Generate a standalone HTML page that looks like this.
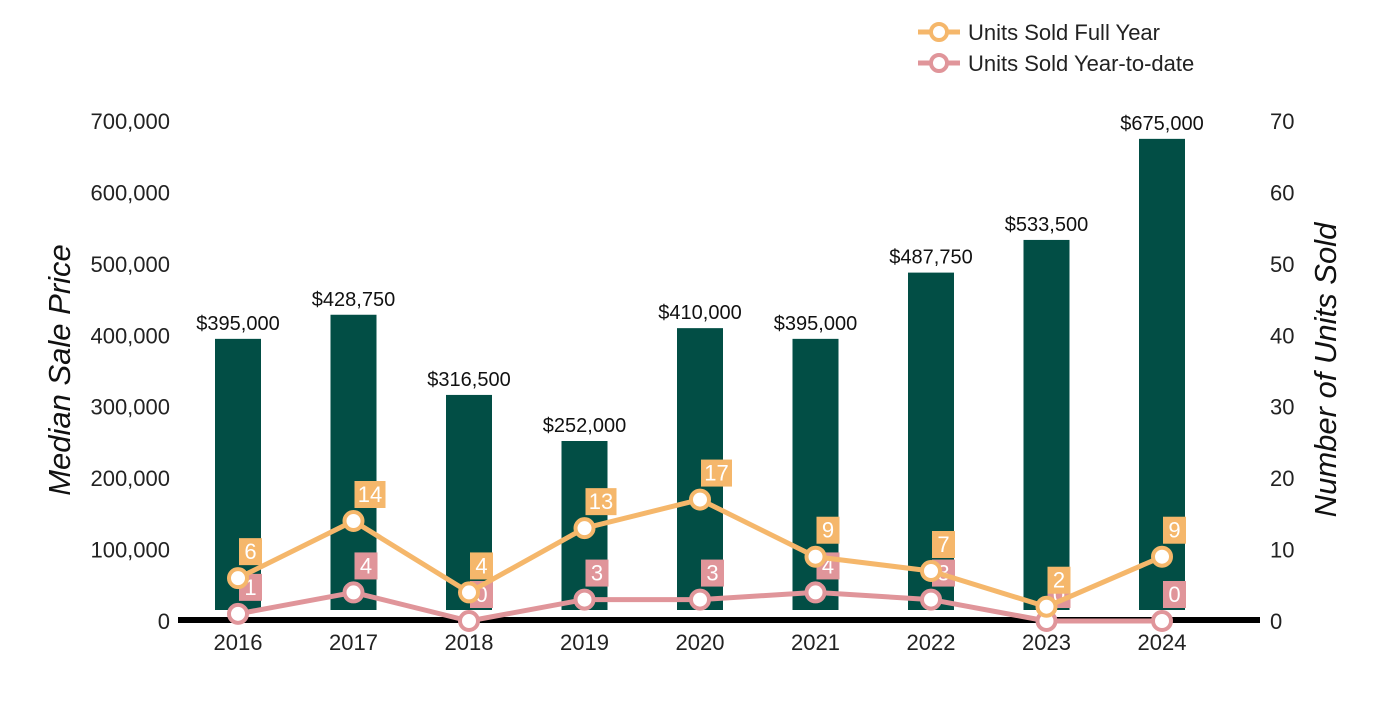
<!DOCTYPE html>
<html><head><meta charset="utf-8"><style>
body{margin:0;background:#fff;font-family:"Liberation Sans",Arial,sans-serif}
svg text{font-family:"Liberation Sans",Arial,sans-serif}
</style></head><body>
<svg id="c" width="1400" height="700" xmlns="http://www.w3.org/2000/svg">
<g>
 <g>
  <line x1="918" y1="32" x2="960" y2="32" stroke="#F5B76B" stroke-width="5"/>
  <circle cx="939" cy="32" r="8" fill="#fff" stroke="#F5B76B" stroke-width="4"/>
  <text x="968" y="40" font-size="22" fill="#222">Units Sold Full Year</text>
 </g>
 <g>
  <line x1="918" y1="63" x2="960" y2="63" stroke="#E0959A" stroke-width="5"/>
  <circle cx="939" cy="63" r="8" fill="#fff" stroke="#E0959A" stroke-width="4"/>
  <text x="968" y="71" font-size="22" fill="#222">Units Sold Year-to-date</text>
 </g>
</g>
<text transform="translate(70,370) rotate(-90)" text-anchor="middle" font-size="31" font-style="italic" fill="#111">Median Sale Price</text>
<text transform="translate(1336,370) rotate(-90)" text-anchor="middle" font-size="31" font-style="italic" fill="#111">Number of Units Sold</text>
<g id="plot"></g>
</svg>
<script>
const years=["2016","2017","2018","2019","2020","2021","2022","2023","2024"];
const prices=[395000,428750,316500,252000,410000,395000,487750,533500,675000];
const fullYear=[6,14,4,13,17,9,7,2,9];
const ytd=[1,4,0,3,3,4,3,0,0];
const leftTicks=[0,100000,200000,300000,400000,500000,600000,700000];
const rightTicks=[0,10,20,30,40,50,60,70];
const NS="http://www.w3.org/2000/svg";
const g=document.getElementById('plot');
const y0=621,yTop=121;
const yL=v=>y0-(v/700000)*(y0-yTop);
const yR=v=>y0-(v/70)*(y0-yTop);
const xC=i=>238+i*115.5;
function el(t,a,txt){const e=document.createElementNS(NS,t);for(const k in a)e.setAttribute(k,a[k]);if(txt!==undefined)e.textContent=txt;g.appendChild(e);return e;}
const fmt=v=>v.toLocaleString('en-US');
leftTicks.forEach(v=>{const e=el('text',{x:170,y:yL(v)+8,'text-anchor':'end','font-size':22,fill:'#222'},fmt(v));

});
rightTicks.forEach(v=>{const e=el('text',{x:1270,y:yR(v)+8,'font-size':22,fill:'#222'},String(v));

});
prices.forEach((p,i)=>{const top=yL(p);const b=el('rect',{x:xC(i)-23,y:top,width:46,height:610-top,fill:'#024E45'});


const t=el('text',{x:xC(i),y:top-9,'text-anchor':'middle','font-size':20,fill:'#111'},'$'+fmt(p));

});
const ax=el('line',{x1:178,y1:620,x2:1260,y2:620,stroke:'#000','stroke-width':6});


years.forEach((y,i)=>{const t=el('text',{x:xC(i),y:650,'text-anchor':'middle','font-size':22,fill:'#222'},y);

});
function series(vals,color,name){
 const pl=el('polyline',{points:vals.map((v,i)=>xC(i)+','+yR(v)).join(' '),fill:'none',stroke:color,'stroke-width':5,'stroke-linejoin':'round'});
 
 
 vals.forEach((v,i)=>{const c=el('circle',{cx:xC(i),cy:yR(v),r:9,fill:'#fff',stroke:color,'stroke-width':4});
 
 });
}
function labels(vals,color,name){
 vals.forEach((v,i)=>{const s=String(v);const w=s.length>1?31:23;const x=xC(i)+1,y=yR(v)-40;
 const r=el('rect',{x:x,y:y,width:w,height:27,fill:color});
 
 
 const t=el('text',{x:x+w/2,y:y+21,'text-anchor':'middle','font-size':22,fill:'#fff'},s);
 
 });
}
labels(ytd,'#E0959A','ytd');
series(ytd,'#E0959A','ytd');
labels(fullYear,'#F5B76B','full-year');
series(fullYear,'#F5B76B','full-year');
</script>
</body></html>
